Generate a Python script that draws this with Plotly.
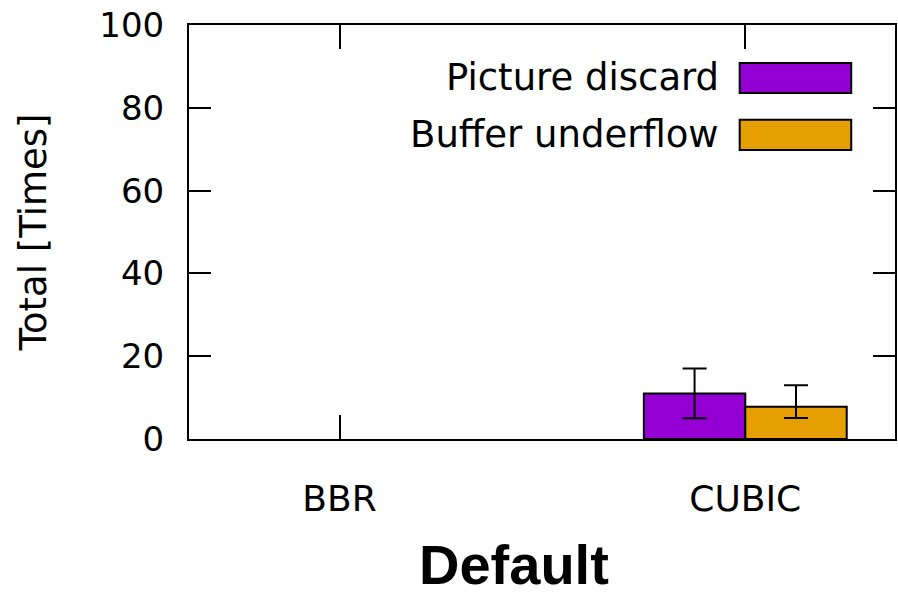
import plotly.graph_objects as go

categories = ["BBR", "CUBIC"]
series_names = ["Picture discard", "Buffer underflow"]
picture_discard = [0, 11]
picture_discard_err_plus = [0, 6]
picture_discard_err_minus = [0, 6]
buffer_underflow = [0, 7.8]
buffer_underflow_err_plus = [0, 5.2]
buffer_underflow_err_minus = [0, 2.7]
colors = ["#9400D3", "#E69F00"]
y_ticks = [0, 20, 40, 60, 80, 100]

FONT = "DejaVu Sans"

fig = go.Figure()
values = [picture_discard, buffer_underflow]
eplus = [picture_discard_err_plus, buffer_underflow_err_plus]
eminus = [picture_discard_err_minus, buffer_underflow_err_minus]
for i in range(2):
    # zero-valued bars are not drawn at all (as in the reference)
    y_plot = [v if v > 0 else None for v in values[i]]
    fig.add_trace(go.Bar(
        x=[0, 1], y=y_plot, name=series_names[i],
        marker=dict(color=colors[i], line=dict(color="black", width=2)),
        error_y=dict(type="data", symmetric=False, array=eplus[i], arrayminus=eminus[i],
                     color="black", thickness=2, width=12),
        showlegend=False,
    ))

fig.update_layout(
    width=898, height=600,
    margin=dict(l=189, r=1, t=25, b=161),
    paper_bgcolor="white", plot_bgcolor="white",
    barmode="group", bargap=0.5, bargroupgap=0,
    font=dict(family=FONT, color="black", size=34),
)
fig.update_xaxes(
    range=[-0.371, 1.369], tickvals=[0, 1], ticktext=categories,
    ticks="inside", ticklen=24, tickwidth=2, tickcolor="black",
    showline=True, linecolor="black", linewidth=2, mirror="allticks",
    showgrid=False, zeroline=False,
    tickfont=dict(family=FONT, size=36), ticklabelstandoff=27,
)
fig.update_yaxes(
    range=[0, 100], tickvals=y_ticks,
    ticks="inside", ticklen=22, tickwidth=2, tickcolor="black",
    showline=True, linecolor="black", linewidth=2, mirror="allticks",
    showgrid=False, zeroline=False,
    tickfont=dict(family=FONT, size=34), ticklabelstandoff=16,
    title=dict(text="Total [Times]", font=dict(family=FONT, size=37), standoff=41),
)

# x-axis title
fig.add_annotation(xref="paper", yref="paper", x=0.4605, y=-0.385, text="<b>Default</b>",
                   showarrow=False, xanchor="center", yanchor="bottom",
                   font=dict(family="Liberation Sans", size=56, color="black"))

# manual legend (gnuplot style: text then swatch)
leg_rows = [(0.836, 0.908), (0.698, 0.771)]
for i, (y0, y1) in enumerate(leg_rows):
    fig.add_shape(type="rect", xref="paper", yref="paper", x0=0.780, x1=0.938, y0=y0, y1=y1,
                  fillcolor=colors[i], line=dict(color="black", width=2))
    fig.add_annotation(xref="paper", yref="paper", x=0.753, y=(y0 + y1) / 2,
                       text=series_names[i], showarrow=False, xanchor="right", yanchor="middle",
                       font=dict(family=FONT, size=37, color="black"))

fig.write_html("out.html")
